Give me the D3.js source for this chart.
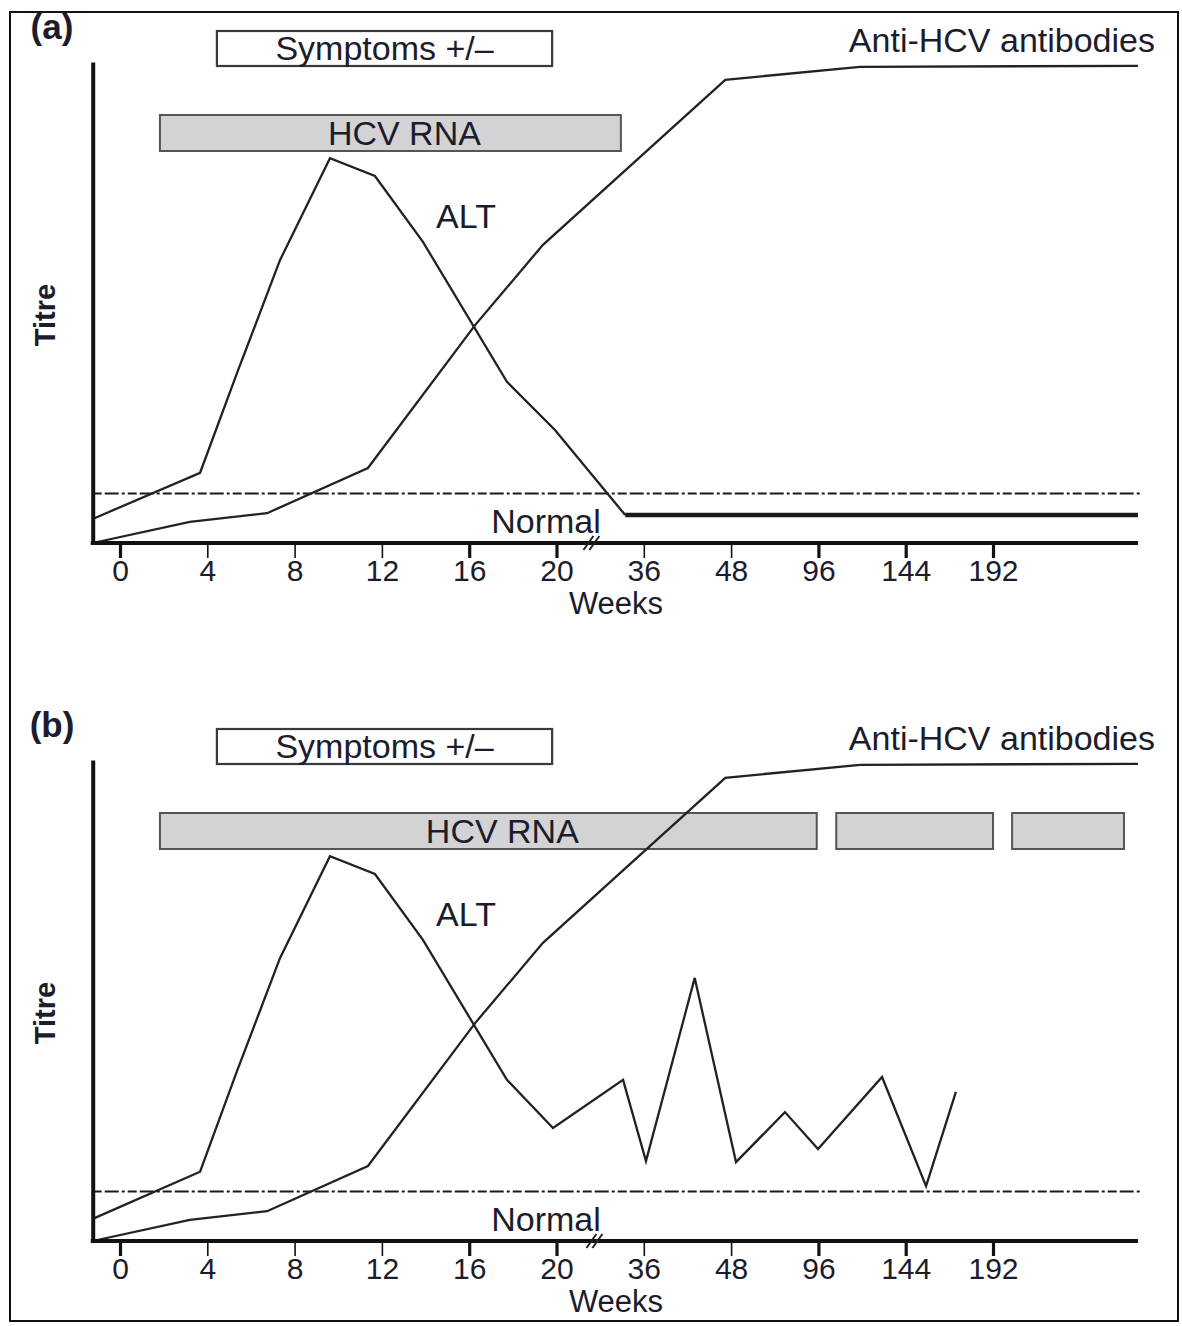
<!DOCTYPE html>
<html><head><meta charset="utf-8">
<script src="https://cdn.jsdelivr.net/npm/d3@7"></script>
<style>
body{margin:0;background:#fff}
text{font-family:"Liberation Sans",Arial,Helvetica,sans-serif;fill:#1c1c2c}
</style>
</head><body>
<svg id="c" width="1182" height="1326"></svg>
<script>
// ---------- data ----------
const weekTicks = [0, 4, 8, 12, 16, 20, 36, 48, 96, 144, 192];
const thinTicks = [4, 8, 12, 36, 48];
const weekStart = -1.25, weekEnd = 271.7;

const antiWeeks = [-1.25, 3.2, 6.74, 11.36, 16.27, 19.38, 47.2, 118.9, 271.7];
const antiTitre = [0, 4.4, 6.2, 15.6, 45.3, 62.0, 96.3, 99.0, 99.2];

const altWeeksA = [-1.25, 3.67, 5.36, 7.33, 9.62, 11.68, 13.88, 17.73, 19.93, 32.6];
const altTitreA = [5.0, 14.6, 35.3, 58.8, 80.0, 76.3, 62.6, 33.5, 23.5, 5.8];
const altPlateauWeeksA = [32.6, 271.7];
const altPlateauTitreA = [5.8, 5.8];

const altWeeksB = [-1.25, 3.67, 5.36, 7.33, 9.62, 11.68, 13.88, 17.73, 19.84, 32.2, 36.3, 43.0, 50.7, 77.6, 95.8, 131.0, 155.2, 171.6];
const altTitreB = [4.6, 14.4, 35.3, 58.8, 80.0, 76.3, 62.6, 33.5, 23.5, 33.5, 16.6, 54.7, 16.4, 26.8, 19.1, 34.1, 11.4, 31.0];

const normalTitre = 10.3;
const symptomsWeeks = [4.44, 19.8];
const rnaSegmentsA = [[1.83, 31.8]];
const rnaSegmentsB = [[1.83, 95.1], [105.8, 192], [202.5, 264]];

// ---------- drawing ----------
const svg = d3.select("#c");
svg.append("rect").attr("x", 10).attr("y", 12).attr("width", 1168).attr("height", 1309)
  .attr("fill", "none").attr("stroke", "#111").attr("stroke-width", 2);

const tickStep = 87.3;
const x = d3.scaleLinear()
  .domain([weekStart, 0, 4, 8, 12, 16, 20, 36, 48, 96, 144, 192, 240])
  .range([120 - 0.3125 * tickStep].concat(d3.range(12).map(i => 120 + i * tickStep)));

const FS = 34;

function panel(cfg) {
  const off = cfg.off;
  const top = 62 + off, base = 543 + off;
  const y = d3.scaleLinear().domain([0, 100]).range([base, top]);
  const g = svg.append("g");

  // panel label
  g.append("text").attr("x", 52).attr("y", 39 + off).attr("text-anchor", "middle")
    .attr("font-size", 35).attr("font-weight", "bold").text(cfg.label);

  // Titre
  g.append("text").attr("transform", `translate(${55},${315 + off}) rotate(-90)`)
    .attr("text-anchor", "middle").attr("font-size", 29).attr("font-weight", "bold").text("Titre");

  // symptoms box
  g.append("rect").attr("x", x(symptomsWeeks[0])).attr("y", 31 + off)
    .attr("width", x(symptomsWeeks[1]) - x(symptomsWeeks[0])).attr("height", 35)
    .attr("fill", "#fff").attr("stroke", "#3a3a3a").attr("stroke-width", 2.2);
  g.append("text").attr("x", (x(symptomsWeeks[0]) + x(symptomsWeeks[1])) / 2).attr("y", 48 + off)
    .attr("dy", "0.36em").attr("text-anchor", "middle").attr("font-size", FS).text("Symptoms +/\u2013");

  // HCV RNA boxes
  cfg.rna.forEach(s => {
    g.append("rect").attr("x", x(s[0])).attr("y", 115 + off).attr("width", x(s[1]) - x(s[0])).attr("height", 36)
      .attr("fill", "#d3d3d5").attr("stroke", "#555").attr("stroke-width", 2);
  });
  const r0 = cfg.rna[0];
  g.append("text").attr("x", (x(r0[0]) + x(r0[1])) / 2 + 14).attr("y", 133 + off).attr("dy", "0.36em")
    .attr("text-anchor", "middle").attr("font-size", FS).text("HCV RNA");

  // normal line
  g.append("line").attr("x1", x(weekStart)).attr("x2", 1142).attr("y1", y(normalTitre)).attr("y2", y(normalTitre))
    .attr("stroke", "#1a1a1a").attr("stroke-width", 2).attr("stroke-dasharray", "9,3,14,3,3,3");
  g.append("text").attr("x", 546).attr("y", 521 + off).attr("dy", "0.36em").attr("text-anchor", "middle")
    .attr("font-size", FS).text("Normal");

  const line = d3.line().x(d => x(d[0])).y(d => y(d[1]));
  // antibodies
  g.append("path").attr("d", line(antiWeeks.map((w, i) => [w, antiTitre[i]])))
    .attr("fill", "none").attr("stroke", "#222").attr("stroke-width", 2.3);
  // ALT
  g.append("path").attr("d", line(cfg.altW.map((w, i) => [w, cfg.altT[i]])))
    .attr("fill", "none").attr("stroke", "#222").attr("stroke-width", 2.3).attr("stroke-linejoin", "miter");
  if (cfg.plateauW) {
    g.append("path").attr("d", line(cfg.plateauW.map((w, i) => [w, cfg.plateauT[i]])))
      .attr("fill", "none").attr("stroke", "#1a1a1a").attr("stroke-width", 4.5);
  }

  g.append("text").attr("x", 466).attr("y", 216 + off).attr("dy", "0.36em").attr("text-anchor", "middle")
    .attr("font-size", FS).text("ALT");
  g.append("text").attr("x", 1155).attr("y", 40 + off).attr("dy", "0.36em").attr("text-anchor", "end")
    .attr("font-size", FS).text("Anti-HCV antibodies");

  // y axis
  const ya = g.append("g").attr("transform", `translate(${x(weekStart)},0)`)
    .call(d3.axisLeft(y).tickValues([]).tickSizeOuter(0));
  ya.select(".domain").attr("stroke", "#111").attr("stroke-width", 4);

  // x axis
  const xa = g.append("g").attr("transform", `translate(0,${base})`)
    .call(d3.axisBottom(x).tickValues(weekTicks).tickSize(15).tickSizeOuter(0).tickPadding(2).tickFormat(d3.format("d")));
  xa.select(".domain").remove();
  xa.selectAll(".tick line").attr("stroke", "#111").attr("stroke-width", d => thinTicks.includes(d) ? 1.6 : 3.2);
  xa.selectAll(".tick text").attr("font-size", 30).attr("fill", "#1c1c2c")
    .attr("font-family", '"Liberation Sans",Arial,sans-serif');
  g.append("line").attr("x1", x(weekStart) - 2).attr("x2", x(weekEnd)).attr("y1", base).attr("y2", base)
    .attr("stroke", "#111").attr("stroke-width", 4);

  // break mark
  const bx = x(26.4) + cfg.breakDx;
  [-3, 3].forEach(dx => {
    g.append("line").attr("x1", bx + dx - 5).attr("y1", base + 7).attr("x2", bx + dx + 5).attr("y2", base - 7)
      .attr("stroke", "#222").attr("stroke-width", 2);
  });

  g.append("text").attr("x", 616).attr("y", 603 + off).attr("dy", "0.36em").attr("text-anchor", "middle")
    .attr("font-size", 31).text("Weeks");
}

panel({ off: 0, label: "(a)", rna: rnaSegmentsA, altW: altWeeksA, altT: altTitreA,
  plateauW: altPlateauWeeksA, plateauT: altPlateauTitreA, breakDx: 0 });
panel({ off: 698, label: "(b)", rna: rnaSegmentsB, altW: altWeeksB, altT: altTitreB, breakDx: 3 });
</script>
</body></html>
